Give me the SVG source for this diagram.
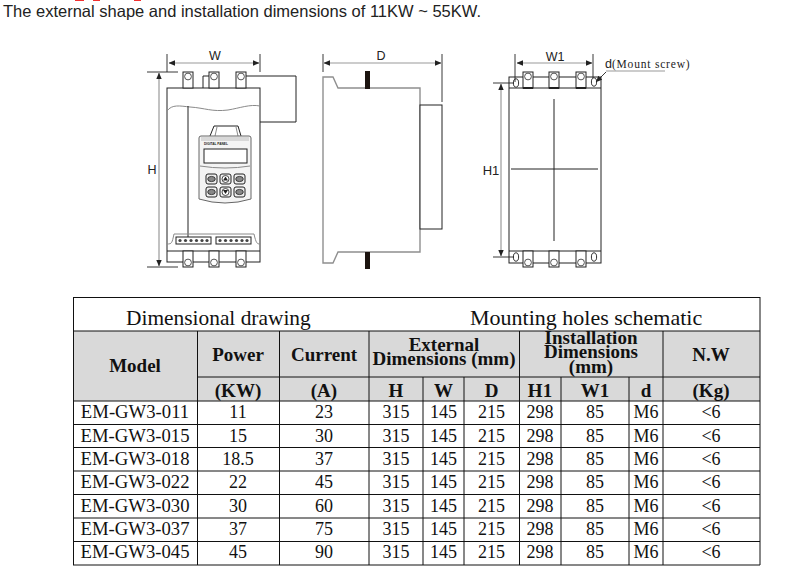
<svg xmlns="http://www.w3.org/2000/svg" width="796" height="568" viewBox="0 0 796 568">
<style>
.l{fill:none;stroke:#222;stroke-width:1}
.lw{fill:#fff;stroke:#222;stroke-width:1}
.g{fill:none;stroke:#8a8a8a;stroke-width:1}
.gb{fill:none;stroke:#8f8f8f;stroke-width:1.4}
.dim{fill:none;stroke:#999;stroke-width:1.2}
.ext{fill:none;stroke:#222;stroke-width:.9}
.sf{font-family:"Liberation Sans",Arial,sans-serif;fill:#222}
.t{font-family:"Liberation Serif","Times New Roman",serif;fill:#111;font-size:18px;text-anchor:middle}
.m{font-family:"Liberation Serif","Times New Roman",serif;fill:#111;font-size:18.700px;text-anchor:middle}
.b{font-family:"Liberation Serif","Times New Roman",serif;fill:#111;font-size:19px;font-weight:bold;text-anchor:middle}
.tl{stroke:#111;stroke-width:1;fill:none}
</style>
<defs>
<marker id="ah" viewBox="0 0 8 8" refX="7.5" refY="4" markerWidth="6.5" markerHeight="5.5" markerUnits="userSpaceOnUse" orient="auto-start-reverse" preserveAspectRatio="none"><path d="M0 0L8 4L0 8z" fill="#222"/></marker>
<g id="termT"><rect x="0" y="0" width="10" height="16" class="lw"/><circle cx="5" cy="4.5" r="3.4" fill="#fff" stroke="#555"/></g>
<g id="termB"><rect x="0" y="0" width="10" height="16" class="lw"/><circle cx="5" cy="11.5" r="3.4" fill="#fff" stroke="#555"/></g>
<g id="btn"><rect width="11" height="10" rx="2" fill="#eee" stroke="#222"/><ellipse cx="5.5" cy="5" rx="3.8" ry="2.6" fill="#888" stroke="#222" stroke-width=".8"/></g>
<g id="btnA"><rect width="11" height="10" rx="2" fill="#eee" stroke="#222"/><circle cx="5.500" cy="5" r="3.5" fill="#fff" stroke="#222" stroke-width=".8"/></g>
<g id="screws"><rect width="35" height="7" fill="#fff" stroke="#222"/><g fill="#444"><circle cx="4" cy="3.5" r="1.6"/><circle cx="9.500" cy="3.5" r="1.6"/><circle cx="15" cy="3.5" r="1.6"/><circle cx="20.500" cy="3.5" r="1.6"/><circle cx="26" cy="3.5" r="1.6"/><circle cx="31" cy="3.5" r="1.6"/></g></g>
<ellipse id="hole" rx="2.6" ry="4.2" fill="#fff" stroke="#333"/>
</defs>
<rect width="796" height="568" fill="#fff"/>
<g id="clipped-heading" fill="#f03030"><rect x="75" y="0" width="9" height="1"/><rect x="93" y="0" width="7" height="1"/><rect x="134" y="0" width="7" height="1"/></g>
<text id="caption" x="3" y="17" class="sf" style="font-size:16.500px">The external shape and installation dimensions of 11KW ~ 55KW.</text>

<g id="front-view">
<rect x="167" y="88" width="93" height="174" class="lw"/>
<path class="l" d="M167 251H260"/>
<path class="g" d="M167 111C172 104 180 106 190 107C205 108 212 112 228 110C240 108 250 104 260 106"/>
<path class="l" d="M188 106V237"/>
<path class="g" d="M167 244C172 244 172 243 174 234H254C256 243 257 244 260 244"/>
<use href="#termT" x="183" y="72"/><use href="#termT" x="209" y="72"/><use href="#termT" x="236" y="72"/>
<use href="#termB" x="183" y="251"/><use href="#termB" x="209" y="251"/><use href="#termB" x="236" y="251"/>
<path class="l" d="M203 88V76H209M246 76H296V122H260"/>
<g id="panel">
<path class="lw" d="M210 136L214 126L238 126L241 136"/>
<path class="g" d="M217 127L215 136M236 127L238 136"/>
<path d="M199 138Q199 136 201 136H249Q251 136 251 138V199Q225 207 199 199Z" fill="#f4f4f4" stroke="#666"/>
<path d="M201 137H249V141H201z" fill="#bbb" opacity=".5"/>
<text x="204" y="145" class="sf" style="font-size:3.200px;font-weight:bold">DIGITAL PANEL</text>
<rect x="204" y="149" width="43" height="14" fill="#fff" stroke="#222"/>
<path class="g" d="M200 166Q225 170 250 166"/>
<use href="#btn" x="206" y="174"/><use href="#btnA" x="220" y="174"/><use href="#btn" x="234" y="174"/>
<use href="#btn" x="206" y="187"/><use href="#btnA" x="220" y="187"/><use href="#btn" x="234" y="187"/>
<path d="M225.500 176.500L228 180.500H223z" fill="#222"/><path d="M225.500 194L228 190H223z" fill="#222"/>
</g>
<use href="#screws" x="176" y="237"/><use href="#screws" x="216" y="237"/>
<text x="215" y="60" class="sf" style="font-size:12.500px" text-anchor="middle">W</text>
<text x="152" y="174" class="sf" style="font-size:12.500px" text-anchor="middle">H</text>
</g>

<g id="side-view">
<path class="gb" d="M323 77H333L338 88H420V252H338L333 263H323Z" fill="#fff"/>
<rect x="420" y="105" width="22" height="124" class="lw"/>
<rect x="365" y="71" width="5" height="18" fill="#1c1410"/>
<rect x="365" y="252" width="5" height="17" fill="#1c1410"/>
<text x="381" y="60" class="sf" style="font-size:12.500px" text-anchor="middle">D</text>
</g>

<g id="mount-view">
<rect x="509" y="77" width="92" height="186" class="lw"/>
<path class="l" d="M509 88H601M509 251H601"/>
<use href="#termT" x="523" y="72"/><use href="#termT" x="549" y="72"/><use href="#termT" x="576" y="72"/>
<use href="#termB" x="523" y="251"/><use href="#termB" x="549" y="251"/><use href="#termB" x="576" y="251"/>
<path d="M523 88H533M549 88H559M576 88H586" stroke="#222" stroke-width="2" fill="none"/>
<use href="#hole" x="516" y="83"/><use href="#hole" x="594" y="82"/><use href="#hole" x="516" y="257"/><use href="#hole" x="594" y="257"/>
<path class="l" d="M554 99V241M511 169H598"/>
<text x="555" y="61" class="sf" style="font-size:12.500px" text-anchor="middle">W1</text>
<text x="491" y="175" class="sf" style="font-size:13px" text-anchor="middle">H1</text>
<text x="605" y="68" style="font-size:12.500px"><tspan class="sf">d</tspan><tspan font-family="'Liberation Serif',serif" fill="#222" style="font-size:11.500px;letter-spacing:.8px">(Mount screw)</tspan></text>
</g>

<g id="connectors">
<path class="ext" d="M167 54V72M260 54V72M147 72H178M147 267H178M323 54V72M442 54V102M515 54V82M593 54V78M493 83H514M493 257H514"/>
<path class="dim" d="M169 63H259" marker-start="url(#ah)" marker-end="url(#ah)"/>
<path class="dim" d="M159 73V266" marker-start="url(#ah)" marker-end="url(#ah)"/>
<path class="dim" d="M324 63H441" marker-start="url(#ah)" marker-end="url(#ah)"/>
<path class="dim" d="M517 63H592" marker-start="url(#ah)" marker-end="url(#ah)"/>
<path class="dim" d="M501 84V256" marker-start="url(#ah)" marker-end="url(#ah)"/>
<path class="ext" d="M606 72L596 82" marker-end="url(#ah)"/>
<path class="dim" d="M606 71H665"/>
</g>

<g id="spec-table">
<rect x="73.500" y="331" width="686.500" height="70" fill="#d9d9d9"/>
<path class="tl" d="M73 297.500H760M73 331H760M197 377H760M73 401H760M73 424.500H760M73 447.500H760M73 471H760M73 494.500H760M73 518H760M73 541.500H760M73 565H760M73.500 297V565M760 297V565M197.500 331V565M279.500 331V565M369 331V565M423 377V565M464 377V565M519.500 331V565M561 377V565M629 377V565M663 331V565"/>
<text x="126" y="325" font-family="'Liberation Serif',serif" fill="#111" style="font-size:21.400px">Dimensional drawing</text>
<text x="470" y="325" font-family="'Liberation Serif',serif" fill="#111" style="font-size:22px">Mounting holes schematic</text>
<text x="135" y="372" class="b">Model</text>
<text x="238" y="361" class="b">Power</text>
<text x="324" y="361" class="b">Current</text>
<text x="444" y="351" class="b">External</text>
<text x="444" y="365" class="b">Dimensions (mm)</text>
<text x="591" y="344" class="b">Installation</text>
<text x="591" y="358" class="b">Dimensions</text>
<text x="591" y="373" class="b">(mm)</text>
<text x="711" y="361" class="b">N.W</text>
<text x="238" y="397" class="b">(KW)</text><text x="324" y="397" class="b">(A)</text><text x="396" y="397" class="b">H</text><text x="443.500" y="397" class="b">W</text><text x="491.500" y="397" class="b">D</text><text x="540" y="397" class="b">H1</text><text x="595" y="397" class="b">W1</text><text x="646" y="397" class="b">d</text><text x="711" y="397" class="b">(Kg)</text>
<text class="m" x="135" y="418">EM-GW3-011</text><text class="t" x="238" y="418">11</text><text class="t" x="324" y="418">23</text><text class="t" x="396" y="418">315</text><text class="t" x="443.500" y="418">145</text><text class="t" x="491.500" y="418">215</text><text class="t" x="540" y="418">298</text><text class="t" x="595" y="418">85</text><text class="t" x="646" y="418">M6</text><text class="t" x="711" y="418">&lt;6</text>
<text class="m" x="135" y="441.500">EM-GW3-015</text><text class="t" x="238" y="441.500">15</text><text class="t" x="324" y="441.500">30</text><text class="t" x="396" y="441.500">315</text><text class="t" x="443.500" y="441.500">145</text><text class="t" x="491.500" y="441.500">215</text><text class="t" x="540" y="441.500">298</text><text class="t" x="595" y="441.500">85</text><text class="t" x="646" y="441.500">M6</text><text class="t" x="711" y="441.500">&lt;6</text>
<text class="m" x="135" y="465">EM-GW3-018</text><text class="t" x="238" y="465">18.5</text><text class="t" x="324" y="465">37</text><text class="t" x="396" y="465">315</text><text class="t" x="443.500" y="465">145</text><text class="t" x="491.500" y="465">215</text><text class="t" x="540" y="465">298</text><text class="t" x="595" y="465">85</text><text class="t" x="646" y="465">M6</text><text class="t" x="711" y="465">&lt;6</text>
<text class="m" x="135" y="488">EM-GW3-022</text><text class="t" x="238" y="488">22</text><text class="t" x="324" y="488">45</text><text class="t" x="396" y="488">315</text><text class="t" x="443.500" y="488">145</text><text class="t" x="491.500" y="488">215</text><text class="t" x="540" y="488">298</text><text class="t" x="595" y="488">85</text><text class="t" x="646" y="488">M6</text><text class="t" x="711" y="488">&lt;6</text>
<text class="m" x="135" y="511.500">EM-GW3-030</text><text class="t" x="238" y="511.500">30</text><text class="t" x="324" y="511.500">60</text><text class="t" x="396" y="511.500">315</text><text class="t" x="443.500" y="511.500">145</text><text class="t" x="491.500" y="511.500">215</text><text class="t" x="540" y="511.500">298</text><text class="t" x="595" y="511.500">85</text><text class="t" x="646" y="511.500">M6</text><text class="t" x="711" y="511.500">&lt;6</text>
<text class="m" x="135" y="535">EM-GW3-037</text><text class="t" x="238" y="535">37</text><text class="t" x="324" y="535">75</text><text class="t" x="396" y="535">315</text><text class="t" x="443.500" y="535">145</text><text class="t" x="491.500" y="535">215</text><text class="t" x="540" y="535">298</text><text class="t" x="595" y="535">85</text><text class="t" x="646" y="535">M6</text><text class="t" x="711" y="535">&lt;6</text>
<text class="m" x="135" y="558">EM-GW3-045</text><text class="t" x="238" y="558">45</text><text class="t" x="324" y="558">90</text><text class="t" x="396" y="558">315</text><text class="t" x="443.500" y="558">145</text><text class="t" x="491.500" y="558">215</text><text class="t" x="540" y="558">298</text><text class="t" x="595" y="558">85</text><text class="t" x="646" y="558">M6</text><text class="t" x="711" y="558">&lt;6</text>
</g>
</svg>
